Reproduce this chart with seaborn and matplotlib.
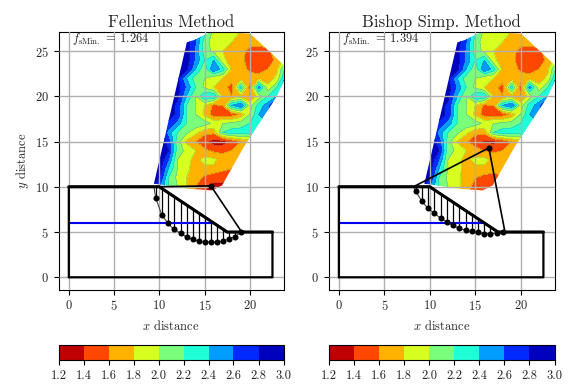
import numpy as np
import matplotlib
matplotlib.use("Agg")
import matplotlib.pyplot as plt
from matplotlib.patches import Polygon
import seaborn as sns

grid_x = [9, 10, 11, 12, 13, 14, 15, 16, 17, 18, 19, 20, 21, 22, 23, 24]
grid_y = [9, 10, 11, 12, 13, 14, 15, 16, 17, 18, 19, 20, 21, 22, 23, 24, 25, 26, 27.3]

fellenius_fs = [
    [2.9, 2.5, 2.2, 2.0, 1.8, 1.6, 1.4, 1.3, 1.3, 1.5, 1.7, 1.9, 2.1, 2.3, 2.5, 2.7],
    [2.9, 2.6, 2.2, 2.0, 1.8, 1.6, 1.42, 1.35, 1.35, 1.5, 1.7, 1.9, 2.1, 2.3, 2.5, 2.7],
    [2.95, 2.8, 2.2, 1.95, 1.8, 1.7, 1.55, 1.45, 1.45, 1.5, 1.7, 1.9, 2.1, 2.3, 2.5, 2.7],
    [2.95, 2.9, 2.4, 2.0, 1.85, 1.7, 1.75, 1.75, 1.65, 1.6, 1.7, 1.9, 2.1, 2.3, 2.5, 2.7],
    [2.95, 2.95, 2.6, 2.0, 1.85, 1.75, 1.85, 1.85, 1.7, 1.65, 1.7, 1.9, 2.1, 2.3, 2.5, 2.7],
    [2.95, 2.95, 2.8, 2.1, 1.95, 1.8, 1.65, 1.55, 1.55, 1.6, 1.7, 1.8, 2.1, 2.3, 2.5, 2.7],
    [2.95, 2.95, 2.7, 2.1, 1.75, 1.6, 1.45, 1.3, 1.28, 1.45, 1.6, 1.7, 2.1, 2.3, 2.5, 2.7],
    [2.95, 2.95, 2.5, 2.2, 2.05, 1.85, 1.65, 1.65, 2.2, 2.3, 2.3, 2.3, 2.3, 2.3, 2.5, 2.7],
    [2.95, 2.95, 2.75, 2.5, 2.2, 2.15, 2.1, 1.95, 2.0, 2.05, 2.1, 2.2, 2.3, 2.4, 2.5, 2.7],
    [2.95, 2.95, 2.9, 2.75, 2.2, 2.0, 1.75, 1.5, 1.5, 1.48, 1.65, 2.0, 2.4, 2.6, 2.7, 2.9],
    [2.95, 2.95, 2.9, 2.75, 2.2, 2.0, 1.8, 1.55, 1.6, 2.4, 2.6, 1.9, 2.3, 2.5, 2.95, 2.95],
    [2.95, 2.95, 2.9, 2.85, 2.4, 2.0, 2.4, 2.4, 1.75, 1.6, 1.7, 1.6, 1.9, 2.2, 2.4, 2.6],
    [2.95, 2.95, 2.95, 2.9, 2.55, 2.2, 1.95, 1.8, 1.7, 1.5, 2.3, 1.5, 2.5, 1.85, 2.2, 2.6],
    [2.95, 2.95, 2.95, 2.85, 2.4, 2.1, 2.0, 1.85, 1.8, 1.7, 1.65, 1.7, 1.7, 1.7, 1.85, 2.5],
    [2.95, 2.95, 2.95, 2.95, 2.85, 2.4, 2.05, 2.6, 2.3, 1.75, 1.7, 1.55, 1.48, 1.6, 1.75, 2.3],
    [2.95, 2.95, 2.95, 2.95, 2.9, 2.55, 2.2, 2.4, 1.85, 1.7, 1.7, 1.45, 1.45, 1.5, 1.65, 1.9],
    [2.95, 2.95, 2.95, 2.95, 2.9, 2.55, 2.1, 1.95, 1.8, 1.72, 1.7, 1.5, 1.48, 1.55, 1.7, 1.8],
    [2.95, 2.95, 2.95, 2.95, 2.9, 2.6, 2.1, 1.9, 1.85, 1.8, 1.75, 1.7, 1.7, 1.7, 1.75, 1.8],
    [2.95, 2.95, 2.95, 2.95, 2.95, 2.6, 2.3, 1.95, 1.85, 1.85, 1.8, 1.75, 1.75, 1.8, 1.8, 1.8],
]

bishop_fs = [
    [2.9, 2.5, 2.2, 2.0, 1.85, 1.7, 1.5, 1.4, 1.4, 1.6, 1.7, 1.9, 2.1, 2.3, 2.5, 2.7],
    [2.9, 2.6, 2.2, 2.0, 1.85, 1.7, 1.5, 1.42, 1.42, 1.6, 1.7, 1.9, 2.1, 2.3, 2.5, 2.7],
    [2.95, 2.8, 2.2, 1.95, 1.85, 1.7, 1.6, 1.52, 1.52, 1.58, 1.7, 1.9, 2.1, 2.3, 2.5, 2.7],
    [2.95, 2.9, 2.4, 2.0, 1.85, 1.75, 1.75, 1.75, 1.68, 1.65, 1.7, 1.9, 2.1, 2.3, 2.5, 2.7],
    [2.95, 2.95, 2.6, 2.0, 1.85, 1.75, 1.85, 1.85, 1.75, 1.7, 1.7, 1.9, 2.1, 2.3, 2.5, 2.7],
    [2.95, 2.95, 2.8, 2.1, 1.95, 1.8, 1.68, 1.58, 1.55, 1.6, 1.7, 1.8, 2.1, 2.3, 2.5, 2.7],
    [2.95, 2.95, 2.7, 2.1, 1.78, 1.62, 1.48, 1.36, 1.33, 1.45, 1.6, 1.7, 2.1, 2.3, 2.5, 2.7],
    [2.95, 2.95, 2.5, 2.2, 2.05, 1.85, 1.65, 1.65, 2.2, 2.3, 2.3, 2.3, 2.3, 2.3, 2.5, 2.7],
    [2.95, 2.95, 2.75, 2.5, 2.2, 2.15, 2.1, 1.95, 2.0, 2.05, 2.1, 2.2, 2.3, 2.4, 2.5, 2.7],
    [2.95, 2.95, 2.9, 2.75, 2.2, 2.0, 1.75, 1.5, 1.5, 1.48, 1.65, 2.0, 2.4, 2.6, 2.7, 2.9],
    [2.95, 2.95, 2.9, 2.75, 2.2, 2.0, 1.8, 1.55, 1.6, 2.4, 2.6, 1.9, 2.3, 2.5, 2.95, 2.95],
    [2.95, 2.95, 2.9, 2.85, 2.4, 2.0, 2.4, 2.4, 1.75, 1.6, 1.7, 1.6, 1.9, 2.2, 2.4, 2.6],
    [2.95, 2.95, 2.95, 2.9, 2.55, 2.2, 1.95, 1.8, 1.7, 1.5, 2.3, 1.5, 2.5, 1.85, 2.2, 2.6],
    [2.95, 2.95, 2.95, 2.85, 2.4, 2.1, 2.0, 1.85, 1.8, 1.7, 1.65, 1.7, 1.7, 1.7, 1.85, 2.5],
    [2.95, 2.95, 2.95, 2.95, 2.85, 2.4, 2.05, 2.6, 2.3, 1.75, 1.7, 1.55, 1.48, 1.6, 1.75, 2.3],
    [2.95, 2.95, 2.95, 2.95, 2.9, 2.55, 2.2, 2.4, 1.85, 1.7, 1.7, 1.45, 1.45, 1.5, 1.65, 1.9],
    [2.95, 2.95, 2.95, 2.95, 2.9, 2.55, 2.1, 1.95, 1.8, 1.72, 1.7, 1.5, 1.48, 1.55, 1.7, 1.8],
    [2.95, 2.95, 2.95, 2.95, 2.9, 2.6, 2.1, 1.9, 1.85, 1.8, 1.75, 1.7, 1.7, 1.7, 1.75, 1.8],
    [2.95, 2.95, 2.95, 2.95, 2.95, 2.6, 2.3, 1.95, 1.85, 1.85, 1.8, 1.75, 1.75, 1.8, 1.8, 1.8],
]

# outline of the grid of tried centres
centres_x = [9.4, 13.04, 13.8, 15.44, 16.37, 20.07, 23.7, 23.8, 22.85, 19.33, 16.93, 15.8, 13.04, 10.07]
centres_y = [10.33, 25.96, 26.2, 27.0, 27.2, 26.9, 23.5, 21.8, 19.8, 14.4, 10.15, 9.6, 9.8, 10.26]

surface_x = [0, 10, 17.5, 22.5]
surface_y = [10, 10, 5, 5]
outline_x = [0, 0, 10, 17.5, 22.5, 22.5, 0]
outline_y = [0, 10, 10, 5, 5, 0, 0]
water_x = [0, 16]
water_y = [6, 6]

fell_slip_x = [9.61, 10.28, 10.94, 11.6, 12.38, 13.04, 13.7, 14.36, 15.03, 15.69, 16.35, 17.02, 17.68, 18.34, 19.0]
fell_slip_y = [8.73, 6.88, 5.97, 5.3, 4.86, 4.42, 4.2, 3.98, 3.87, 3.9, 3.87, 4.01, 4.23, 4.45, 4.97]
fell_radius_x = [9.4, 15.7, 19.1]
fell_radius_y = [10, 10.1, 5]

bish_slip_x = [8.43, 9.13, 9.8, 10.5, 11.2, 11.85, 12.5, 13.2, 13.96, 14.6, 15.3, 16.0, 16.65, 17.4, 18.05]
bish_slip_y = [9.54, 8.4, 7.62, 7.07, 6.52, 6.11, 5.74, 5.41, 5.19, 5.08, 4.97, 4.82, 4.82, 4.86, 4.97]
bish_radius_x = [8.2, 16.5, 18.27]
bish_radius_y = [10, 14.3, 5]

levels = [1.2, 1.4, 1.6, 1.8, 2.0, 2.2, 2.4, 2.6, 2.8, 3.0]

sns.set_style("ticks")
plt.rcParams["font.family"] = ["cmr10", "DejaVu Serif"]
plt.rcParams["mathtext.fontset"] = "cm"
plt.rcParams["axes.formatter.use_mathtext"] = True
plt.rcParams["axes.unicode_minus"] = False
plt.rcParams["font.size"] = 9


def line(ax, xs, ys, **kw):
    sns.lineplot(x=xs, y=ys, sort=False, estimator=None, ax=ax, legend=False, **kw)


def draw_panel(ax, cax, fs, slip_x, slip_y, rad_x, rad_y, title, label):
    cs = ax.contourf(grid_x, grid_y, np.array(fs), levels=levels, cmap="jet_r", zorder=1)
    clip = Polygon(np.column_stack([centres_x, centres_y]), transform=ax.transData)
    cs.set_clip_path(clip)
    edges = ax.contour(grid_x, grid_y, np.array(fs), levels=levels, colors="#555555",
                       linewidths=0.25, alpha=0.6, zorder=1)
    edges.set_clip_path(clip)

    ax.grid(True, color="#b0b0b0", lw=1.0, zorder=2)
    ax.set_axisbelow(False)

    tops = np.interp(slip_x, surface_x, surface_y)
    for x, y, t in zip(slip_x, slip_y, tops):
        line(ax, [x, x], [y, t], color="k", lw=0.9, zorder=3)
    line(ax, [rad_x[0]] + slip_x + [rad_x[2]], [rad_y[0]] + slip_y + [rad_y[2]],
         color="#444444", lw=0.8, zorder=3)
    line(ax, rad_x, rad_y, color="k", lw=1.2, zorder=4)
    line(ax, water_x, water_y, color="#0000ee", lw=1.5, zorder=4)
    line(ax, outline_x, outline_y, color="k", lw=1.6, zorder=5)
    line(ax, surface_x, surface_y, color="k", lw=2.2, zorder=5)
    sns.scatterplot(x=slip_x, y=slip_y, color="k", s=19, linewidth=0, ax=ax, zorder=6)
    sns.scatterplot(x=rad_x[1:2], y=rad_y[1:2], color="k", s=19, linewidth=0, ax=ax, zorder=6)

    ax.set_xlim(-1.14, 23.72)
    ax.set_ylim(-1.35, 27.16)
    ax.set_xticks([0, 5, 10, 15, 20])
    ax.set_yticks([0, 5, 10, 15, 20, 25])
    ax.set_title(title, fontsize=12, pad=3.5)
    ax.set_xlabel("$x$ distance", fontsize=9, labelpad=4)
    ax.text(0.4, 26.35, label, fontsize=9, va="center", ha="left")
    ax.tick_params(labelsize=9, length=3.5, width=0.8, color="k")
    for s in ax.spines.values():
        s.set_color("k")
        s.set_linewidth(0.8)

    cb = plt.colorbar(cs, cax=cax, orientation="horizontal", ticks=levels)
    cb.ax.set_xticklabels([f"{v:.1f}" for v in levels])
    cb.ax.tick_params(labelsize=9, length=3.5, width=0.8, color="k")
    cb.outline.set_edgecolor("k")
    cb.outline.set_linewidth(0.8)


W, H = 572, 392
fig = plt.figure(figsize=(W / 100, H / 100), dpi=100)


def box(x0, x1, y0, y1):
    return [x0 / W, 1 - y1 / H, (x1 - x0) / W, (y1 - y0) / H]


ax1 = fig.add_axes(box(58.5, 283.5, 31.5, 289.5))
ax2 = fig.add_axes(box(328.5, 554.5, 31.5, 289.5))
cax1 = fig.add_axes(box(58.5, 283.5, 345, 360))
cax2 = fig.add_axes(box(328.5, 554.5, 345, 360))

draw_panel(ax1, cax1, fellenius_fs, fell_slip_x, fell_slip_y, fell_radius_x, fell_radius_y,
           "Fellenius Method", r"$f_{\mathrm{sMin.}}\,=\,1.264$")
draw_panel(ax2, cax2, bishop_fs, bish_slip_x, bish_slip_y, bish_radius_x, bish_radius_y,
           "Bishop Simp. Method", r"$f_{\mathrm{sMin.}}\,=\,1.394$")
ax1.set_ylabel("$y$ distance", fontsize=9, labelpad=3)

fig.savefig("out.png", dpi=100)
